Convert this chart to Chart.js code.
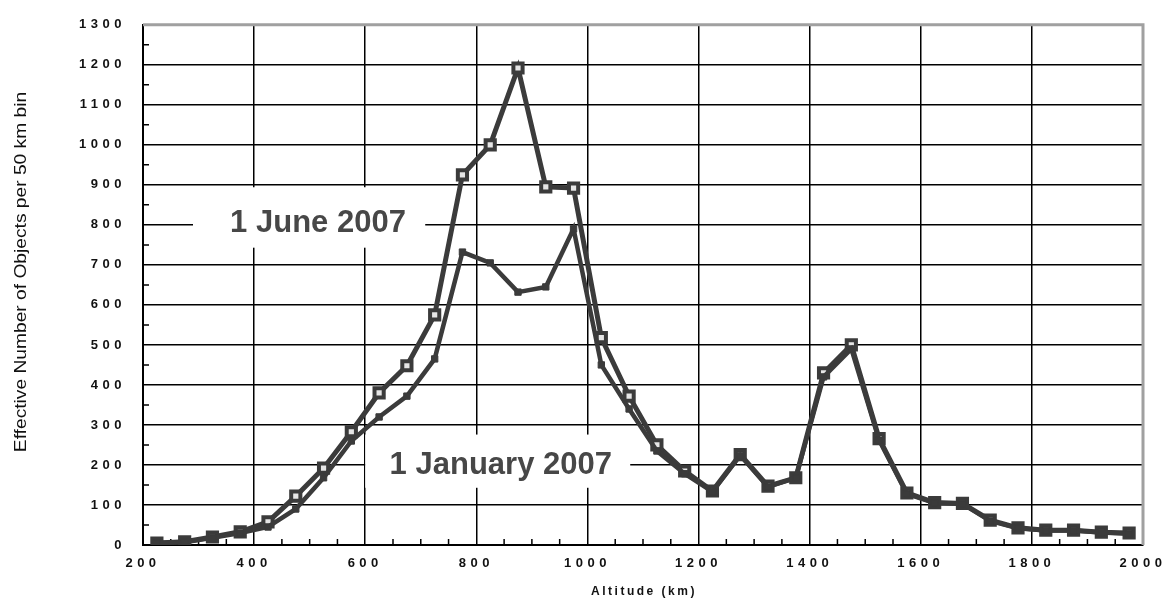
<!DOCTYPE html>
<html>
<head>
<meta charset="utf-8">
<script src="https://cdn.jsdelivr.net/npm/chart.js@4.4.1/dist/chart.umd.min.js"></script>
<style>
  html, body { margin: 0; padding: 0; background: #fff; }
  #wrap { width: 1170px; height: 612px; }
</style>
</head>
<body>
<div id="wrap"><canvas id="myChart" width="1170" height="612"></canvas></div>
<script>
// bin centres (km)
let altitudes = [225, 275, 325, 375, 425, 475, 525, 575, 625, 675, 725, 775, 825, 875, 925, 975, 1025, 1075,
                 1125, 1175, 1225, 1275, 1325, 1375, 1425, 1475, 1525, 1575, 1625, 1675, 1725, 1775, 1825, 1875, 1925, 1975];

let june2007 = [5, 8, 20, 33, 58, 122, 192, 283, 380, 448, 575, 925, 1000, 1192, 895, 892, 518, 372,
                250, 185, 135, 226, 147, 168, 430, 500, 266, 130, 106, 104, 62, 43, 37, 37, 32, 30];

let jan2007 = [5, 7, 18, 30, 45, 90, 168, 260, 320, 372, 465, 732, 705, 632, 645, 790, 450, 340,
               235, 178, 133, 224, 145, 168, 420, 490, 262, 128, 105, 103, 60, 42, 36, 36, 31, 28];

let seriesNames = ["1 June 2007", "1 January 2007"];
let xTitle = "Altitude (km)";
let yTitle = "Effective Number of Objects per 50 km bin";

const FONT = '"Liberation Sans", Arial, sans-serif';
const INK = "#3b3b3b";

// in-plot labels, placed in data units
let notes = [
    { text: seriesNames[0], x: 515, y: 803, box: [290, 708, 894, 743] },
    { text: seriesNames[1], x: 844, y: 199, box: [600, 1077, 276, 143] }
];

const extras = {
    id: "extras",
    beforeDraw(chart) {
        chart.ctx.letterSpacing = "4.5px";
    },
    beforeDatasetsDraw(chart) {
        const ctx = chart.ctx, a = chart.chartArea;
        const sx = chart.scales.x, sy = chart.scales.y;
        ctx.save();
        ctx.letterSpacing = "0px";

        // grey top / right frame
        ctx.strokeStyle = "#a0a0a0";
        ctx.lineWidth = 3;
        ctx.beginPath();
        ctx.moveTo(a.left, a.top);
        ctx.lineTo(a.right, a.top);
        ctx.lineTo(a.right, a.bottom);
        ctx.stroke();

        // minor ticks, inside the frame
        ctx.strokeStyle = "#000";
        ctx.lineWidth = 1.5;
        ctx.beginPath();
        for (let v = 50; v < 1300; v += 100) {
            let py = sy.getPixelForValue(v);
            ctx.moveTo(a.left, py);
            ctx.lineTo(a.left + 6, py);
        }
        for (let v = 250; v < 2000; v += 50) {
            if (v % 200 === 0) continue;
            let px = sx.getPixelForValue(v);
            ctx.moveTo(px, a.bottom);
            ctx.lineTo(px, a.bottom - 6);
        }
        ctx.stroke();

        // white boxes behind the labels, then the labels
        notes.forEach(n => {
            let x0 = sx.getPixelForValue(n.box[0]), x1 = sx.getPixelForValue(n.box[1]);
            let y0 = sy.getPixelForValue(n.box[2]), y1 = sy.getPixelForValue(n.box[3]);
            ctx.fillStyle = "#fff";
            ctx.fillRect(x0, y0, x1 - x0, y1 - y0);
            ctx.fillStyle = "#474747";
            ctx.font = "bold 31px " + FONT;
            ctx.textAlign = "center";
            ctx.textBaseline = "middle";
            ctx.fillText(n.text, sx.getPixelForValue(n.x), sy.getPixelForValue(n.y));
        });
        ctx.restore();
    },
    afterDraw(chart) {
        const ctx = chart.ctx, a = chart.chartArea;
        ctx.save();
        ctx.fillStyle = "#111";
        ctx.textAlign = "center";
        ctx.textBaseline = "middle";

        ctx.letterSpacing = "2.5px";
        ctx.font = "bold 12px " + FONT;
        ctx.fillText(xTitle, (a.left + a.right) / 2 + 1, 592);

        ctx.letterSpacing = "0px";
        ctx.font = "16px " + FONT;
        ctx.translate(22, 272);
        ctx.rotate(-Math.PI / 2);
        ctx.scale(1.2, 1);
        ctx.fillText(yTitle, 0, 0);
        ctx.restore();
    }
};

let config = {
    type: "line",
    data: {
        datasets: [
            {
                label: seriesNames[1],
                data: altitudes.map((a, i) => ({ x: a, y: jan2007[i] })),
                borderColor: INK,
                borderWidth: 4.5,
                pointStyle: "rect",
                pointRadius: 4.5,
                pointBackgroundColor: INK,
                pointBorderColor: INK,
                pointBorderWidth: 1,
                tension: 0
            },
            {
                label: seriesNames[0],
                data: altitudes.map((a, i) => ({ x: a, y: june2007[i] })),
                borderColor: INK,
                borderWidth: 5,
                pointStyle: "rect",
                pointRadius: 6.5,
                pointBackgroundColor: "#e6e6e6",
                pointBorderColor: INK,
                pointBorderWidth: 4,
                tension: 0
            }
        ]
    },
    options: {
        responsive: false,
        animation: false,
        devicePixelRatio: 1,
        layout: { padding: { left: 0, top: 17, right: 27, bottom: 0 } },
        plugins: {
            legend: { display: false },
            tooltip: { enabled: false }
        },
        scales: {
            x: {
                type: "linear",
                min: 200,
                max: 2000,
                afterFit: s => { s.height = 67; },
                ticks: {
                    stepSize: 200,
                    padding: 11,
                    color: "#111",
                    font: { family: FONT, size: 13, weight: "bold" },
                    maxRotation: 0,
                    callback: v => String(v)
                },
                grid: {
                    color: c => (c.tick && c.tick.value === 2000) ? "rgba(0,0,0,0)" : "#000",
                    lineWidth: 1.5,
                    drawTicks: false
                },
                border: { color: "#000", width: 2 }
            },
            y: {
                min: 0,
                max: 1300,
                afterFit: s => { s.width = 143; },
                ticks: {
                    stepSize: 100,
                    padding: 17,
                    color: "#111",
                    font: { family: FONT, size: 13, weight: "bold" },
                    callback: v => String(v)
                },
                grid: {
                    color: c => (c.tick && c.tick.value === 1300) ? "rgba(0,0,0,0)" : "#000",
                    lineWidth: 1.5,
                    drawTicks: false
                },
                border: { color: "#000", width: 2 }
            }
        }
    },
    plugins: [extras]
};

let ctx = document.getElementById("myChart").getContext("2d");
let myChart = new Chart(ctx, config);
</script>
</body>
</html>
